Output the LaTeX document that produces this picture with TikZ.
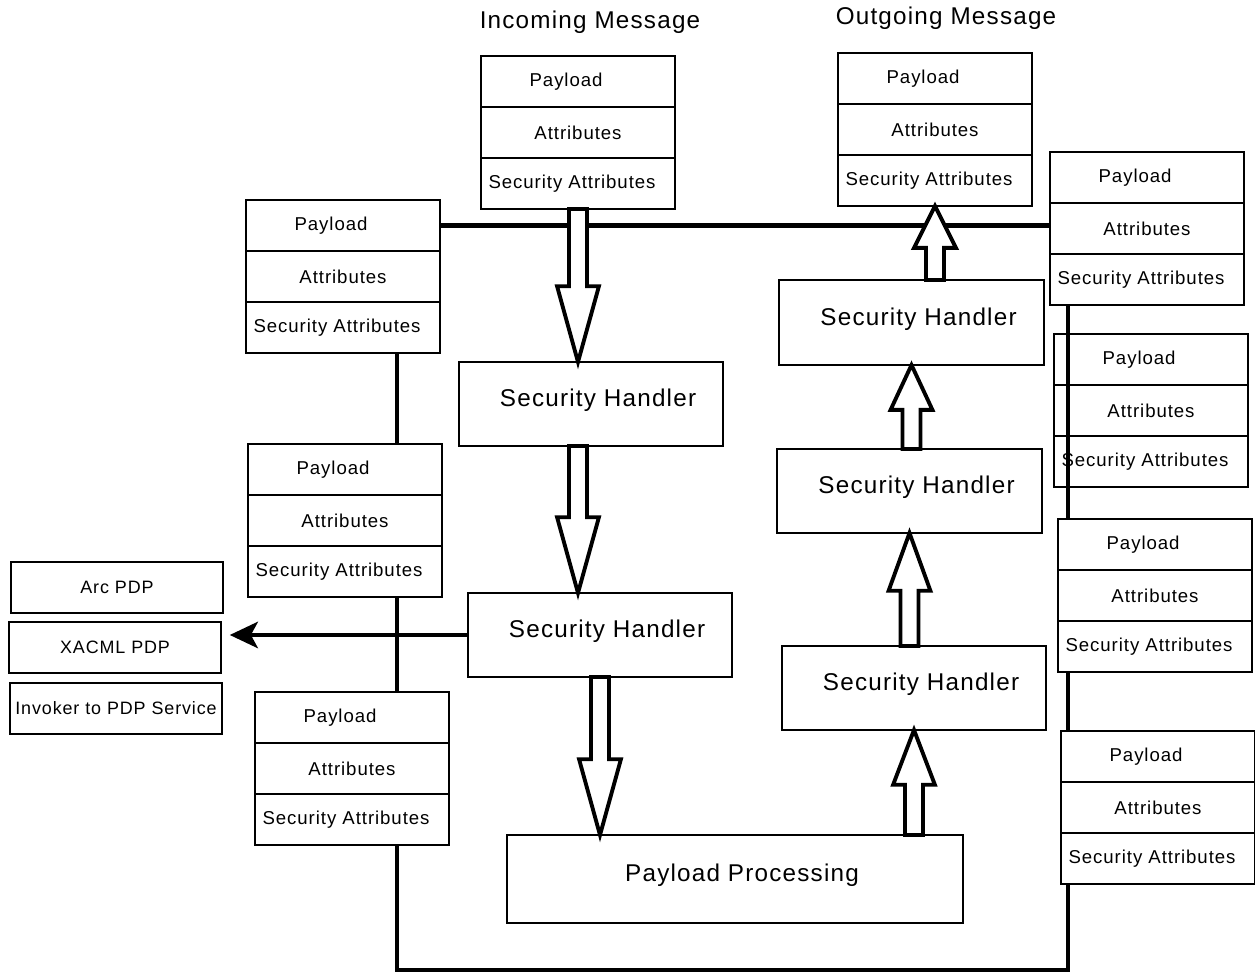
\documentclass[tikz,border=0pt]{standalone}
\usepackage{fontspec}
\setmainfont{Liberation Sans}[LetterSpace=5]
\usetikzlibrary{positioning,calc,arrows.meta}
\pgfdeclarelayer{bg}
\pgfsetlayers{bg,main}

\def\pix{0.02cm}
\def\shw{5.1pt}
\def\hdw{11.9pt}
% hollow block arrow: from, to, head length (px)
\newcommand{\blkarrow}[3]{%
  \draw[blk] let \p1=(#1), \p2=(#2), \n1={#3*0.567*sign(\y2-\y1)} in
    (\x2,\y2) -- ({\x2-\hdw},{\y2-(\n1)}) -- ({\x2-\shw},{\y2-(\n1)}) -- ({\x2-\shw},\y1)
    -- ({\x2+\shw},\y1) -- ({\x2+\shw},{\y2-(\n1)}) -- ({\x2+\hdw},{\y2-(\n1)}) -- cycle;}

\begin{document}
\begin{tikzpicture}[x=0.02cm,y=-0.02cm]
    \tikzstyle{conn}=[line width=2.3pt]
    \tikzstyle{marrs}=[line width=2.3pt,-{Stealth[length=16pt,width=15pt,inset=4pt]}]
    \tikzstyle{blk}=[line width=2.2pt, fill=white, line join=miter]
    \tikzstyle{mrow}=[draw, line width=0.9pt, outer sep=0pt, inner sep=0pt, minimum width=194*\pix, minimum height=51*\pix, font=\fontsize{10.6}{12}\selectfont]
    \tikzstyle{hnode}=[draw, line width=0.9pt, outer sep=0pt, anchor=north west, text depth=7pt, font=\fontsize{13.8}{16}\selectfont]
    \tikzstyle{pdp}=[draw, line width=0.9pt, outer sep=0pt, inner xsep=1pt, anchor=north west, minimum width=212*\pix, minimum height=51*\pix, font=\fontsize{10.2}{12}\selectfont]
    \def\hoff{\hspace*{8pt}}

    \useasboundingbox (0,0) rectangle (1255,972);

    \node[font=\fontsize{13.8}{16}\selectfont] (tin) at (590,22) {Incoming Message};
    \node[font=\fontsize{13.8}{16}\selectfont] (tout) at (946,18) {Outgoing Message};

    % message stacks
    \foreach \nm/\xx/\yy/\fl in {in/481/56/white, out/838/53/white, l1/246/200/white, l2/248/444/white, l3/255/692/white, r1/1050/152/white, r2/1054/334/none, r3/1058/519/white, r4/1061/731/white} {
        \node[mrow, anchor=north west, fill=\fl] (\nm-p) at (\xx,\yy) {Payload\hspace*{13.6pt}};
        \node[mrow, below=0pt of \nm-p, fill=\fl] (\nm-a) {Attributes};
        \node[mrow, below=0pt of \nm-a, fill=\fl] (\nm-s) {Security Attributes\hspace*{6.8pt}};
    }

    % handlers
    \node[hnode, minimum width=264*\pix, minimum height=84*\pix] (sh1) at (459,362) {\hoff Security Handler};
    \node[hnode, minimum width=264*\pix, minimum height=84*\pix] (sh2) at (468,593) {\hoff Security Handler};
    \node[hnode, minimum width=265*\pix, minimum height=85*\pix] (sh3) at (779,280) {\hoff Security Handler};
    \node[hnode, minimum width=265*\pix, minimum height=84*\pix] (sh4) at (777,449) {\hoff Security Handler};
    \node[hnode, minimum width=264*\pix, minimum height=84*\pix] (sh5) at (782,646) {\hoff Security Handler};
    \node[hnode, minimum width=456*\pix, minimum height=88*\pix] (pp) at (507,835) {\hoff Payload Processing};

    % PDPs
    \node[pdp] (arc) at (11,562) {Arc PDP};
    \node[pdp] (xacml) at (9,622) {XACML PDP};
    \node[pdp] (inv) at (10,683) {Invoker to PDP Service};

    \coordinate (cl) at (397,970);
    \coordinate (cr) at (1068,970);

    \begin{pgfonlayer}{bg}
        \draw[conn] (l1-p.east) -- (l1-p.east -| r1-p.west);
        \draw[conn] (l1-s.south -| cl) -- (l2-p.north -| cl);
        \draw[conn] (l2-s.south -| cl) -- (l3-p.north -| cl);
        \draw[conn] (l3-s.south -| cl) -- (cl) -- (cr) -- (r1-s.south -| cr);
    \end{pgfonlayer}

    \draw[marrs, shorten >=5pt] (sh2.west) -- (sh2.west -| xacml.east);

    \blkarrow{in-s.south}{in-s.south |- sh1.north}{76}
    \blkarrow{sh1.south -| in-s.south}{in-s.south |- sh2.north}{76}
    \blkarrow{sh2.south}{sh2.south |- pp.north}{76}
    \blkarrow{pp.north -| sh5.south}{sh5.south}{55}
    \blkarrow{sh5.north -| sh4.south}{sh4.south}{58}
    \blkarrow{sh4.north}{sh3.south}{45}
    \blkarrow{sh3.north -| out-s.south}{out-s.south}{42}
\end{tikzpicture}
\end{document}
